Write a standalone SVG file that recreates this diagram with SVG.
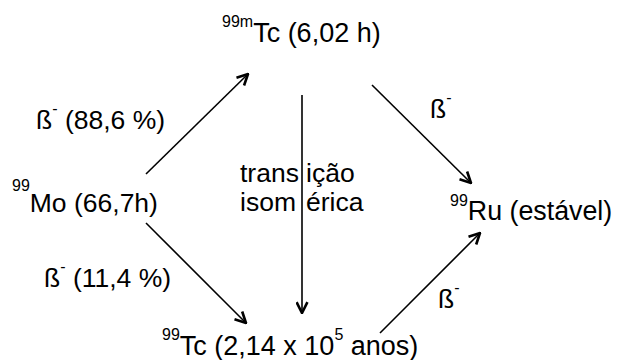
<svg xmlns="http://www.w3.org/2000/svg" width="617" height="360" viewBox="0 0 617 360">
<style>
text{font-family:"Liberation Sans",Arial,sans-serif;font-size:26.5px;fill:#000}
.sup{font-size:16px}
.c{stroke:#000;stroke-width:1.6;fill:none;marker-end:url(#ah)}
</style>
<defs>
<marker id="ah" viewBox="0 0 12 12" refX="11" refY="6" markerWidth="13" markerHeight="13" markerUnits="userSpaceOnUse" orient="auto">
<path d="M1,1 L11,6 L1,11" fill="none" stroke="#000" stroke-width="2.4"/>
</marker>
</defs>
<rect width="617" height="360" fill="#fff"/>
<g id="connectors">
<line class="c" x1="146" y1="174" x2="248" y2="74"/>
<line class="c" x1="146" y1="223" x2="246" y2="323"/>
<line class="c" x1="372" y1="85" x2="471" y2="183"/>
<line class="c" x1="380" y1="333" x2="480" y2="233"/>
<line class="c" x1="302" y1="95" x2="302" y2="313"/>
</g>
<g id="tc99m"><text x="222" y="42" style="font-size:27px"><tspan class="sup" dy="-15">99m</tspan><tspan dy="15">Tc (6,02 h)</tspan></text></g>
<g id="mo99"><text x="12" y="212"><tspan class="sup" dy="-21">99</tspan><tspan dy="21">Mo (66,7h)</tspan></text></g>
<g id="ru99"><text x="450" y="220" style="font-size:26.8px"><tspan class="sup" dy="-14">99</tspan><tspan dy="14">Ru (estável)</tspan></text></g>
<g id="tc99"><text x="162" y="355" style="font-size:27px"><tspan class="sup" dy="-15">99</tspan><tspan dy="15">Tc (2,14 x 10</tspan><tspan class="sup" dy="-15">5</tspan><tspan dy="15"> anos)</tspan></text></g>
<g id="labels">
<text x="36" y="129">ß<tspan class="sup" dy="-15">-</tspan><tspan dy="15"> (88,6 %)</tspan></text>
<text x="44" y="287">ß<tspan class="sup" dy="-15">-</tspan><tspan dy="15"> (11,4 %)</tspan></text>
<text x="430" y="118">ß<tspan class="sup" dy="-15">-</tspan></text>
<text x="438" y="308">ß<tspan class="sup" dy="-15">-</tspan></text>
<text y="182"><tspan x="240">trans</tspan><tspan x="306">ição</tspan></text>
<text y="211"><tspan x="240">isom</tspan><tspan x="306">érica</tspan></text>
</g>
</svg>
